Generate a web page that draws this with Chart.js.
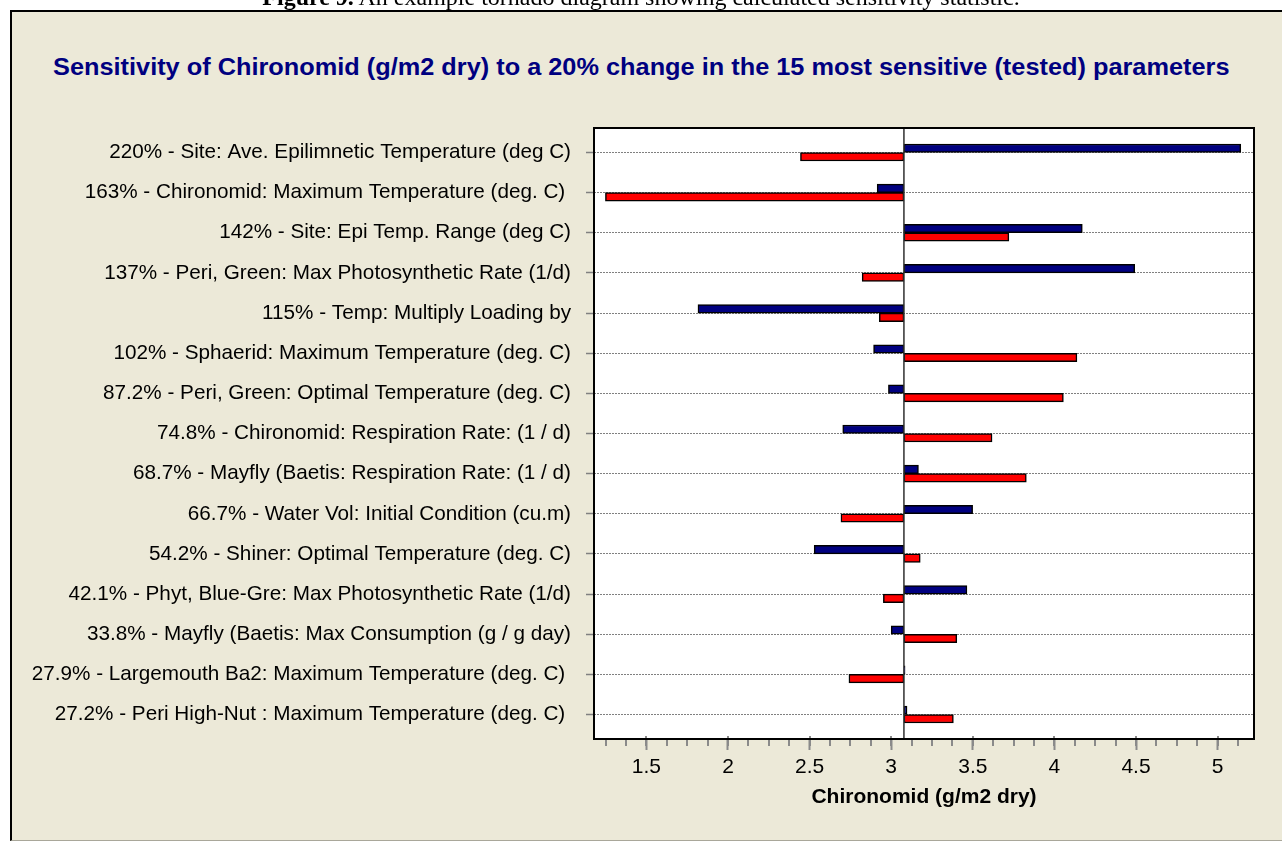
<!DOCTYPE html>
<html>
<head>
<meta charset="utf-8">
<title>Tornado diagram - Chironomid sensitivity</title>
<script src="https://cdn.jsdelivr.net/npm/chart.js@4.4.1/dist/chart.umd.min.js"></script>
<style>
    html, body { margin: 0; padding: 0; background: #ffffff; overflow: hidden; }
    body { width: 1282px; height: 841px; position: relative; }
    #caption {
        position: absolute; left: 0; top: -15.5px; width: 1282px;
        text-align: center; font: 24px "Liberation Serif", "Times New Roman", serif;
        line-height: 1; white-space: nowrap; z-index: 3;
    }
    #frame {
        position: absolute; left: 10px; top: 10px; width: 1300px; height: 828px;
        background: #ECE9D8; border-left: 2px solid #000; border-top: 2px solid #000;
        border-bottom: 1px solid #a9a79a; z-index: 1;
    }
    #title {
        position: absolute; left: 0; top: 54px; width: 1282px; text-align: center;
        font: bold 23px "Liberation Sans", Arial, sans-serif; color: #000080;
        white-space: nowrap; z-index: 2;
    }
    #title span { display: inline-block; transform-origin: center; }
    #wrap { position: absolute; left: 0; top: 0; width: 1282px; height: 841px; z-index: 2; }
    #tornado { display: block; }
</style>
</head>
<body>
<div id="caption"><b>Figure 9.</b> An example tornado diagram showing calculated sensitivity statistic.</div>
<div id="frame"></div>
<div id="title"><span>Sensitivity of Chironomid (g/m2 dry) to a 20% change in the 15 most sensitive (tested) parameters</span></div>
<div id="wrap"><canvas id="tornado" width="1282" height="841"></canvas></div>

<script>
// Parameter labels (most sensitive first)
const paramLabels = [
    '220% - Site: Ave. Epilimnetic Temperature (deg C)',
    '163% - Chironomid: Maximum Temperature (deg. C) ',
    '142% - Site: Epi Temp. Range (deg C)',
    '137% - Peri, Green: Max Photosynthetic Rate (1/d)',
    '115% - Temp: Multiply Loading by',
    '102% - Sphaerid: Maximum Temperature (deg. C)',
    '87.2% - Peri, Green: Optimal Temperature (deg. C)',
    '74.8% - Chironomid: Respiration Rate: (1 / d)',
    '68.7% - Mayfly (Baetis: Respiration Rate: (1 / d)',
    '66.7% - Water Vol: Initial Condition (cu.m)',
    '54.2% - Shiner: Optimal Temperature (deg. C)',
    '42.1% - Phyt, Blue-Gre: Max Photosynthetic Rate (1/d)',
    '33.8% - Mayfly (Baetis: Max Consumption (g / g day)',
    '27.9% - Largemouth Ba2: Maximum Temperature (deg. C) ',
    '27.2% - Peri High-Nut : Maximum Temperature (deg. C) '
];

// Baseline Chironomid result (g/m2 dry)
const baseValue = 3.078;

// Result with parameter changed one way (blue) and the other way (red)
const blueValues = [5.142, 2.914, 4.171, 4.492, 1.816, 2.892, 2.983, 2.703, 3.167, 3.499, 2.528, 3.464, 3.000, 3.085, 3.097];
const redValues  = [2.444, 1.249, 3.721, 2.822, 2.927, 4.138, 4.055, 3.618, 3.828, 2.692, 3.178, 2.952, 3.402, 2.741, 3.381];

// X axis range and ticks
const xMin = 1.179;
const xMax = 5.223;
const xMajorStep = 0.5;
const xMinorStep = 0.125;

// fit the title to the reference width
(function fitTitle() {
    const span = document.querySelector('#title span');
    span.style.transform = `scaleX(${1177 / span.offsetWidth})`;
})();

/**
 * White plot area, frame, baseline and minor ticks
 */
const plotDecor = {
    id: 'plotDecor',
    beforeDraw(chart) {
        const { ctx, chartArea: a } = chart;
        ctx.save();
        ctx.fillStyle = '#ffffff';
        ctx.fillRect(a.left, a.top, a.right - a.left, a.bottom - a.top);
        ctx.restore();
    },
    afterDatasetsDraw(chart) {
        const { ctx, chartArea: a } = chart;
        const x = chart.scales.x;
        ctx.save();
        // baseline
        const bx = x.getPixelForValue(baseValue);
        ctx.strokeStyle = '#303030';
        ctx.lineWidth = 1.5;
        ctx.beginPath();
        ctx.moveTo(bx, a.top);
        ctx.lineTo(bx, a.bottom);
        ctx.stroke();
        // minor ticks
        ctx.strokeStyle = '#8a8a8a';
        ctx.lineWidth = 2;
        for (let v = Math.ceil(xMin / xMinorStep) * xMinorStep; v <= xMax; v += xMinorStep) {
            const px = Math.round(x.getPixelForValue(v));
            const major = Math.abs(v / xMajorStep - Math.round(v / xMajorStep)) < 1e-6;
            ctx.beginPath();
            ctx.moveTo(px, a.bottom - (major ? 3 : 0));
            ctx.lineTo(px, a.bottom + 7);
            ctx.stroke();
        }
        ctx.restore();
    },
    afterDraw(chart) {
        const { ctx, chartArea: a } = chart;
        ctx.save();
        ctx.strokeStyle = '#000000';
        ctx.lineWidth = 2;
        ctx.strokeRect(a.left, a.top, a.right - a.left, a.bottom - a.top);
        ctx.restore();
    }
};

const ctx = document.getElementById('tornado').getContext('2d');

new Chart(ctx, {
    type: 'bar',
    data: {
        datasets: [{
            label: 'Blue',
            data: blueValues.map((v, i) => ({ x: [baseValue, v], y: i })),
            backgroundColor: '#000080',
            borderColor: '#000000',
            borderWidth: 1.5,
            borderSkipped: false,
            barThickness: 8.5
        }, {
            label: 'Red',
            data: redValues.map((v, i) => ({ x: [baseValue, v], y: i })),
            backgroundColor: '#ff0000',
            borderColor: '#000000',
            borderWidth: 1.5,
            borderSkipped: false,
            barThickness: 8.5
        }]
    },
    options: {
        indexAxis: 'y',
        responsive: false,
        animation: false,
        devicePixelRatio: 1,
        layout: {
            padding: { top: 128, right: 28, bottom: 30, left: 0 }
        },
        scales: {
            y: {
                type: 'linear',
                reverse: true,
                offset: false,
                min: -0.61,
                max: 14.61,
                afterBuildTicks: (axis) => {
                    axis.ticks = paramLabels.map((_, i) => ({ value: i }));
                },
                afterFit: (axis) => { axis.width = 594; },
                ticks: {
                    autoSkip: false,
                    padding: 15,
                    color: '#000000',
                    font: { family: '"Liberation Sans", Arial, sans-serif', size: 20.7 },
                    callback: (value) => paramLabels[value]
                },
                grid: {
                    offset: false,
                    color: '#808080',
                    lineWidth: 1,
                    tickLength: 8,
                    tickColor: '#808080',
                    tickWidth: 1.5
                },
                border: { display: false, dash: [2, 1] }
            },
            x: {
                type: 'linear',
                min: xMin,
                max: xMax,
                afterFit: (axis) => { axis.height = 72; },
                ticks: {
                    stepSize: xMajorStep,
                    includeBounds: false,
                    autoSkip: false,
                    maxRotation: 0,
                    minRotation: 0,
                    padding: 5,
                    color: '#000000',
                    font: { family: '"Liberation Sans", Arial, sans-serif', size: 21 },
                    callback: (value) => String(value)
                },
                grid: {
                    drawOnChartArea: false,
                    tickLength: 11,
                    tickColor: '#8a8a8a',
                    tickWidth: 2
                },
                border: { display: false },
                title: {
                    display: true,
                    text: 'Chironomid (g/m2 dry)',
                    color: '#000000',
                    font: { family: '"Liberation Sans", Arial, sans-serif', size: 21, weight: 'bold' },
                    padding: { top: 0, bottom: 1 }
                }
            }
        },
        plugins: {
            legend: { display: false },
            tooltip: { enabled: false }
        }
    },
    plugins: [plotDecor]
});
</script>
</body>
</html>
